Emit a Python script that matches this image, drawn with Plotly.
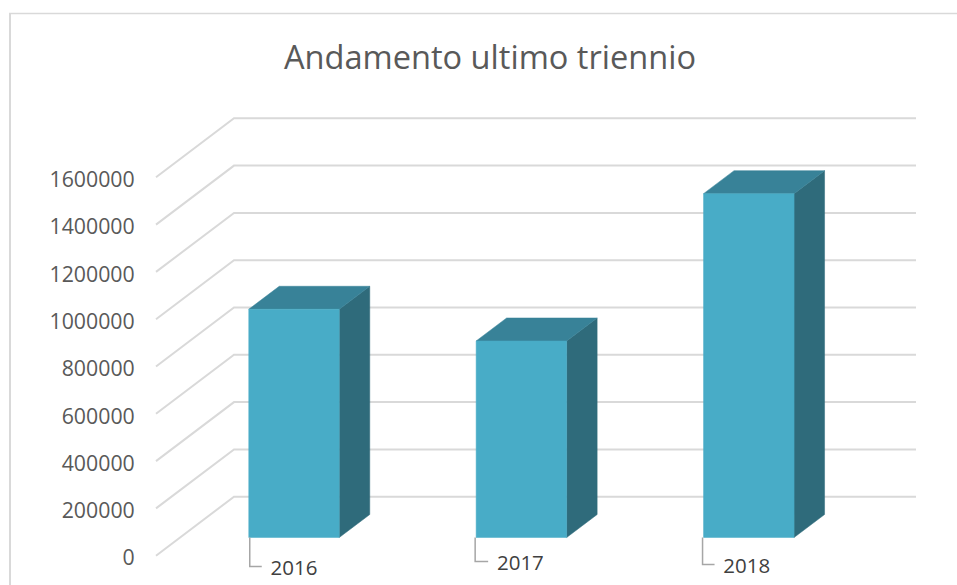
import plotly.graph_objects as go

categories = ["2016", "2017", "2018"]
values = [965000, 831000, 1454000]
y_ticks = [0, 200000, 400000, 600000, 800000, 1000000, 1200000, 1400000, 1600000]
title_text = "Andamento ultimo triennio"

W, H = 957, 585
PX_PER_VAL = 47.3 / 200000
PX_PER_CAT = 227.4
ZERO_PX = 555.7
LABEL_ZERO_PX = 558.0
CENTER0_PX = 294


def dv(px):
    return px / PX_PER_VAL


def dc(px):
    return px / PX_PER_CAT


def cat_at(px):
    return (px - CENTER0_PX) / PX_PER_CAT


wall_dy = dv(59)
wall_left = cat_at(156)
wall_back = cat_at(234)
wall_right = cat_at(916)
bar_base = dv(18.2)
half_w = dc(45.25)
depth_x = dc(30.5)
depth_y = dv(23)

GRID = "#d9d9d9"
FRONT = "#48acc7"
TOP = "#388298"
SIDE = "#2f6b7b"
LEAD = "#a6a6a6"

fig = go.Figure()

# Invisible trace that carries the tick-label axis
fig.add_trace(go.Scatter(
    x=[0] * len(y_ticks), y=y_ticks, yaxis="y2", mode="markers",
    marker=dict(opacity=0), hoverinfo="skip", showlegend=False))

for t in y_ticks:
    fig.add_trace(go.Scatter(
        x=[wall_left, wall_back, wall_right],
        y=[t, t + wall_dy, t + wall_dy],
        mode="lines", line=dict(color=GRID, width=2),
        hoverinfo="skip", showlegend=False))


def poly(xs, ys, color):
    fig.add_trace(go.Scatter(
        x=xs, y=ys, mode="lines", fill="toself", fillcolor=color,
        line=dict(color=color, width=0.5),
        hoverinfo="skip", showlegend=False))


for i, (c, v) in enumerate(zip(categories, values)):
    l, r = i - half_w, i + half_w
    b, t = bar_base, bar_base + v
    poly([r, r + depth_x, r + depth_x, r, r],
         [b, b + depth_y, t + depth_y, t, b], SIDE)
    poly([l, r, r + depth_x, l + depth_x, l],
         [t, t, t + depth_y, t + depth_y, t], TOP)
    poly([l, r, r, l, l], [b, b, t, t, b], FRONT)

leader_drop_px = [29, 24, 27]
leader_dx_px = [1, -1, -1]
leader_len_px = [12, 13, 12]
label_dx_px = [0, -1, -2]
label_dy_px = [3, 3, 3.5]
for i, c in enumerate(categories):
    lead_x = i - half_w + dc(leader_dx_px[i])
    ly = bar_base - dv(leader_drop_px[i])
    fig.add_trace(go.Scatter(
        x=[lead_x, lead_x, lead_x + dc(leader_len_px[i])],
        y=[bar_base, ly, ly],
        mode="lines", line=dict(color=LEAD, width=1.5),
        hoverinfo="skip", showlegend=False))
    fig.add_trace(go.Scatter(
        x=[i + dc(label_dx_px[i])], y=[ly - dv(label_dy_px[i])],
        mode="text", text=[c], textposition="middle center",
        textfont=dict(family="Open Sans", size=20.5, color="#404040"),
        hoverinfo="skip", showlegend=False))

fig.update_layout(
    width=W, height=H,
    margin=dict(l=0, r=0, t=0, b=0),
    paper_bgcolor="white", plot_bgcolor="white",
    showlegend=False,
    title=dict(text=title_text, x=490 / W, xanchor="center",
               y=1 - 58 / H, yanchor="middle",
               font=dict(family="Open Sans", size=32.6, color="#595959")),
    xaxis=dict(visible=False, range=[cat_at(0), cat_at(W)]),
    yaxis=dict(
        visible=False,
        range=[(ZERO_PX - H) / PX_PER_VAL, ZERO_PX / PX_PER_VAL]),
    yaxis2=dict(
        overlaying="y",
        range=[(LABEL_ZERO_PX - H) / PX_PER_VAL, LABEL_ZERO_PX / PX_PER_VAL],
        anchor="free", position=156 / W, side="left",
        tickvals=y_ticks, ticktext=[str(t) for t in y_ticks],
        showgrid=False, zeroline=False, showline=False,
        ticks="outside", ticklen=17, tickcolor="rgba(0,0,0,0)",
        tickfont=dict(family="Open Sans", size=21.3, color="#595959")),
    shapes=[
        dict(type="line", xref="paper", yref="paper",
             x0=9 / W, x1=1, y0=1 - 13.5 / H, y1=1 - 13.5 / H,
             line=dict(color=GRID, width=1.5)),
        dict(type="line", xref="paper", yref="paper",
             x0=10 / W, x1=10 / W, y0=1 - 13 / H, y1=0,
             line=dict(color=GRID, width=2)),
    ],
)

fig.write_html("out.html", config={"displayModeBar": False},
               post_script="document.body.style.margin='0';")
